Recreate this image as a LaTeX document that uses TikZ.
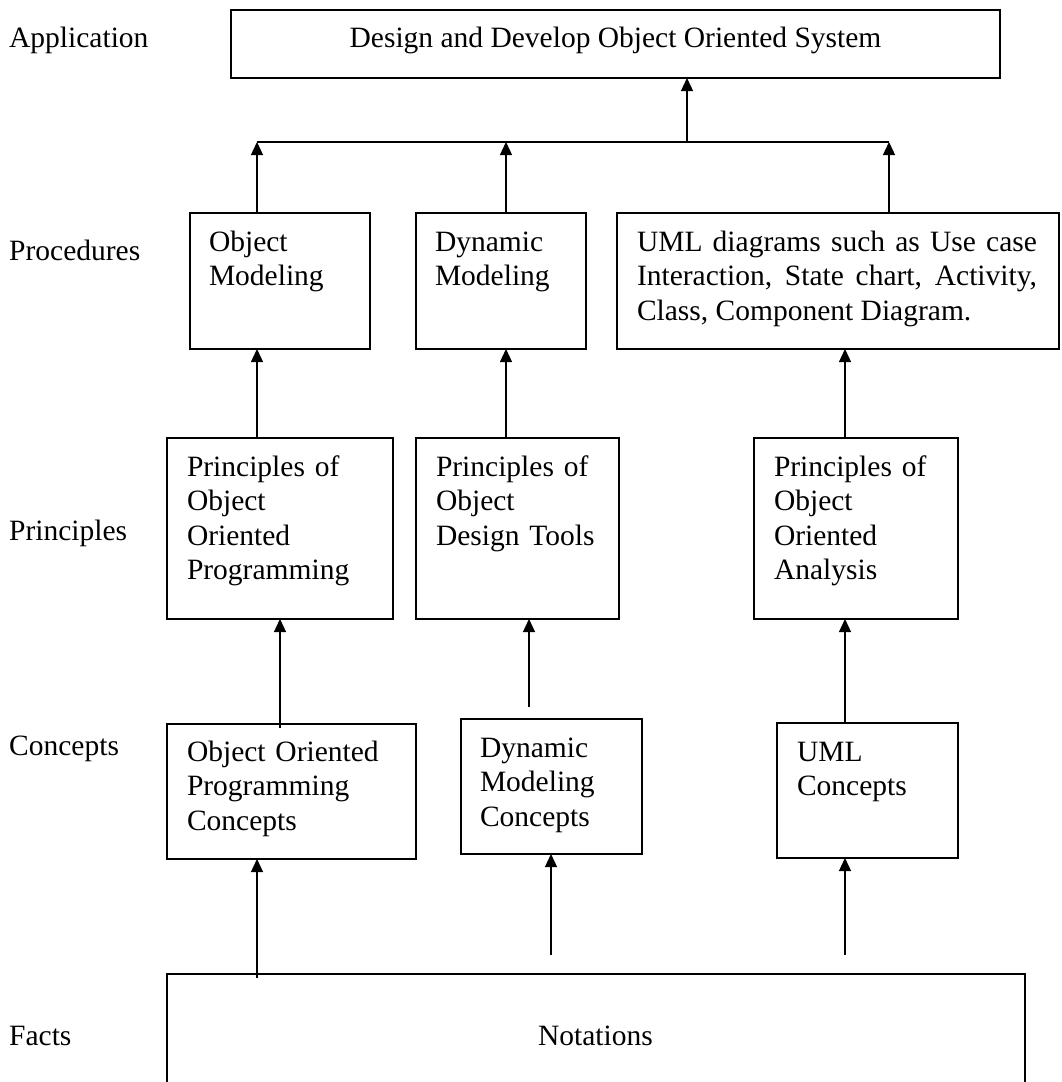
\documentclass[tikz,border=0pt]{standalone}
\usepackage{fontspec}
\setmainfont{Liberation Serif}
\usetikzlibrary{arrows.meta}
\begin{document}
\begin{tikzpicture}[x=1pt,y=-1pt,
  box/.style={draw, line width=1.6pt, inner sep=0pt, outer sep=0pt, anchor=north west},
  txt/.style={inner sep=0pt, outer sep=0pt, anchor=base west, text width=#1, align=left,
    font=\fontsize{29.5}{34.5}\selectfont},
  txt/.default=220pt,
  lbl/.style={inner sep=0pt, anchor=base west, font=\fontsize{29.5}{34.5}\selectfont},
  arr/.style={line width=1.3pt, -{Triangle[length=13pt,width=12pt]}},
  ln/.style={line width=1.3pt}]
\useasboundingbox (0,0) rectangle (1061,1082);

% left labels
\node[lbl] (lApp) at (9,47) {Application};
\node[lbl] (lProc) at (9,260) {Procedures};
\node[lbl] (lPrin) at (9,540) {Principles};
\node[lbl] (lConc) at (9,755) {Concepts};
\node[lbl] (lFact) at (9,1045) {Facts};

% boxes
\node[box, minimum width=769pt, minimum height=68pt] (app) at (231,10) {};
\node[inner sep=0pt, anchor=base, font=\fontsize{29.5}{34.5}\selectfont] (appT) at (615.5,47) {Design and Develop Object Oriented System};

\node[box, minimum width=180pt, minimum height=136pt] (om) at (190,213) {};
\node[txt] (omT) at (209,251) {Object\\Modeling};
\node[box, minimum width=170pt, minimum height=136pt] (dm) at (416,213) {};
\node[txt] (dmT) at (435,251) {Dynamic\\Modeling};
\node[box, minimum width=442pt, minimum height=136pt] (uml) at (617,213) {};
\node[txt=400pt, align=justify] (umlT) at (637,251) {UML diagrams such as Use case\linebreak Interaction, State chart, Activity,\linebreak Class, Component Diagram.};

\node[box, minimum width=226pt, minimum height=181pt] (pop) at (167,438) {};
\node[txt] (popT) at (187,476) {Principles of\\Object\\Oriented\\Programming};
\node[box, minimum width=203pt, minimum height=181pt] (podt) at (416,438) {};
\node[txt] (podtT) at (436,476) {Principles of\\Object\\Design Tools};
\node[box, minimum width=204pt, minimum height=181pt] (pooa) at (754,438) {};
\node[txt] (pooaT) at (774,476) {Principles of\\Object\\Oriented\\Analysis};

\node[box, minimum width=249pt, minimum height=135pt] (oopc) at (167,724) {};
\node[txt=240pt] (oopcT) at (187,761) {Object Oriented\\Programming\\Concepts};
\node[box, minimum width=181pt, minimum height=135pt] (dmc) at (461,719) {};
\node[txt] (dmcT) at (480,757) {Dynamic\\Modeling\\Concepts};
\node[box, minimum width=181pt, minimum height=135pt] (umlc) at (777,723) {};
\node[txt] (umlcT) at (797,761) {UML\\Concepts};

\node[box, minimum width=858pt, minimum height=140pt] (nota) at (167,974) {};
\node[inner sep=0pt, anchor=base, font=\fontsize{29.5}{34.5}\selectfont] (notaT) at (595.5,1045) {Notations};

% bus
\coordinate (b1) at (257,142);
\coordinate (b2) at (506,142);
\coordinate (b3) at (889,142);
\coordinate (bj) at (687,142);
\draw[ln] (b1) -- (b3);
\draw[arr] (bj) -- (app.south -| bj);
\draw[arr] (om.north -| b1) -- (b1);
\draw[arr] (dm.north -| b2) -- (b2);
\draw[arr] (uml.north -| b3) -- (b3);

% principles -> procedures
\coordinate (c3) at (845,0);
\draw[arr] (pop.north -| b1) -- (om.south -| b1);
\draw[arr] (podt.north -| b2) -- (dm.south -| b2);
\draw[arr] (pooa.north -| c3) -- (uml.south -| c3);

% concepts -> principles
\coordinate (x1) at (280,728);
\coordinate (x2) at (529,707);
\draw[arr] (x1) -- (pop.south -| x1);
\draw[arr] (x2) -- (podt.south -| x2);
\draw[arr] (umlc.north -| c3) -- (pooa.south -| c3);

% facts -> concepts
\coordinate (n1) at (257,978);
\coordinate (n2) at (551,955);
\coordinate (n3) at (845,955);
\draw[arr] (n1) -- (oopc.south -| n1);
\draw[arr] (n2) -- (dmc.south -| n2);
\draw[arr] (n3) -- (umlc.south -| n3);
\end{tikzpicture}
\end{document}
